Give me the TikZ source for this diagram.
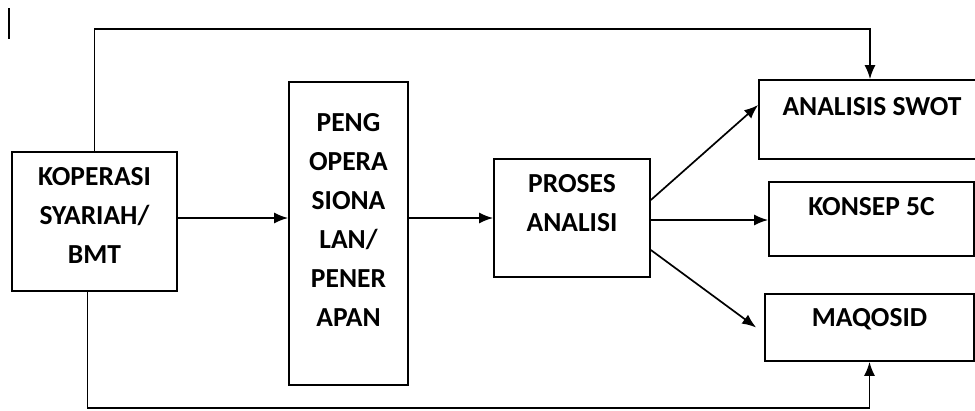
\documentclass[tikz,border=0pt]{standalone}
\usepackage{fontspec}
\setmainfont{Carlito}
\usepackage{tikz}
\usetikzlibrary{arrows.meta, positioning}

\begin{document}
\begin{tikzpicture}[kotak/.style={draw, line width=1.7pt, minimum width=#1}, teks/.style={font=\fontsize{27.5}{39}\selectfont\bfseries, align=center, inner sep=0pt},
			x=1pt, y=-1pt,
			>={Latex[length=14pt,width=11pt]},   %Voreinstellung für Pfeilspitzen
			line width=1.7pt]
			\useasboundingbox (0,0) rectangle (975,410);
			%Cursor oben links
			\draw[line width=1.2pt] (9,8) -- (9,39);
			% Kästen zeichnen
			\node[kotak=165, minimum height=139] (kop) at (94.5,221.5) {};
			\node[kotak=119, minimum height=303] (peng) at (348.5,233.5) {};
			\node[kotak=156, minimum height=118] (proses) at (572,218) {};
			\node[kotak=226, minimum height=79] (swot) at (872,119.5) {};
			\node[kotak=205, minimum height=74] (konsep) at (871.5,219) {};
			\node[kotak=209, minimum height=67] (maqosid) at (869.5,327.5) {};
			% Kästen beschriften
			\node[teks] (kopT) at ([yshift=6.5]kop) {KOPERASI\\SYARIAH/\\BMT};
			\node[teks] (pengT) at ([yshift=14]peng) {PENG\\OPERA\\SIONA\\LAN/\\PENER\\APAN};
			\node[teks] (prosesT) at ([yshift=14.5]proses) {PROSES\\ANALISI};
			\node[teks] (swotT) at ([yshift=12.5]swot) {ANALISIS SWOT};
			\node[teks] (konsepT) at ([yshift=12]konsep) {KONSEP 5C};
			\node[teks] (maqosidT) at ([yshift=8.5]maqosid) {MAQOSID};
			% Hilfspunkte
			\coordinate (atas) at (0,29);
			\coordinate (bawah) at (0,408);
			%Pfeile zeichnen:
			\draw[->] ([yshift=3.5]kop.east) -- ([yshift=3.5]kop.east -| peng.west);
			\draw[->] (peng.east |- proses.west) -- (proses.west);
			\draw[->] ([yshift=18]proses.east) -- ([yshift=14.5]swot.west);
			\draw[->] ([yshift=-2]proses.east) -- ([yshift=-2]proses.east -| konsep.west);
			\draw[->] ([yshift=-32]proses.east) -- ([xshift=-8]maqosid.west);
			\draw[->] (kop.north) -- (kop.north |- atas) -| ([xshift=-2]swot.north);
			\draw[->] ([xshift=-7]kop.south) -- ([xshift=-7]kop.south |- bawah) -| (maqosid.south);
		\end{tikzpicture}
\end{document}
